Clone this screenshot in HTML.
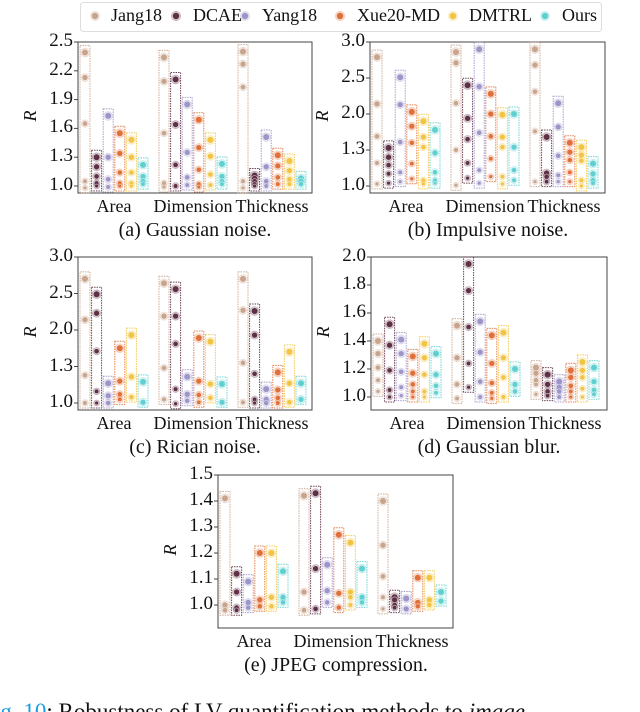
<!DOCTYPE html>
<html><head><meta charset="utf-8"><style>
html,body{margin:0;padding:0;background:#fff;width:640px;height:712px;overflow:hidden;position:relative}
body,.t{font-family:"Liberation Serif","Times New Roman","DejaVu Serif",serif;color:#111}
.t{position:absolute;white-space:nowrap;line-height:1}
svg{position:absolute;left:0;top:0}
</style></head><body>
<svg id="fig" width="640" height="712" viewBox="0 0 640 712" xmlns="http://www.w3.org/2000/svg">
<g id="legend"></g>
<g id="panels"></g>
</svg>
<div id="texts"></div>
<div class="t" style="left:-6px;top:700px;font-size:23px"><span style="color:#1a9de0">ig. 10</span>: Robustness of LV quantification methods to <i>image</i></div>
<script>
const methods = ["Jang18","DCAE","Yang18","Xue20-MD","DMTRL","Ours"];
const colors = ["#c9a48c","#5e2f45","#9d94c8","#e0703a","#f2c443","#5fcfd0"];
const groups = ["Area","Dimension","Thickness"];

const tickValsA = [1.0,1.3,1.6,1.9,2.2,2.5];
const tickLabA = ["1.0","1.3","1.6","1.9","2.2","2.5"];
const dataA = [
 [[2.39,2.13,1.65,1.05,0.98],[1.30,1.20,1.10,1.03,1.0],[1.73,1.30,1.07,0.99],[1.55,1.34,1.14,1.03,1.0],[1.48,1.30,1.14,1.03,1.0],[1.22,1.10,1.05,1.02]],
 [[2.34,2.09,1.55,1.03,0.99],[2.11,1.64,1.22,1.0],[1.85,1.35,1.09,1.01],[1.69,1.40,1.17,1.02,0.99],[1.48,1.31,1.12,1.01],[1.23,1.10,1.05,1.02]],
 [[2.40,2.27,2.03,1.05,0.98],[1.11,1.08,1.05,1.02,1.0],[1.51,1.20,1.05,1.0],[1.32,1.21,1.09,1.02],[1.26,1.16,1.07,1.02],[1.08,1.05,1.02]]
];
const tickValsB = [1.0,1.5,2.0,2.5,3.0];
const tickLabB = ["1.0","1.3","2.0","2.5","3.0"];
const dataB = [
 [[2.79,2.14,1.69,1.32,1.03],[1.53,1.40,1.29,1.17,1.04],[2.51,2.13,1.61,1.19,1.06],[2.03,1.83,1.60,1.31,1.10],[1.90,1.68,1.54,1.08,1.03],[1.78,1.46,1.19,1.08,1.04]],
 [[2.86,2.71,2.15,1.50,1.01],[2.40,1.94,1.65,1.32,1.11],[2.90,2.38,1.74,1.22,1.04],[2.28,2.00,1.69,1.38,1.13],[1.99,1.68,1.54,1.13,1.03],[2.00,1.54,1.22,1.08]],
 [[2.90,2.68,2.31,1.76,1.06],[1.68,1.18,1.13,1.06],[2.15,1.82,1.42,1.15,1.06],[1.60,1.47,1.36,1.19,1.06],[1.54,1.43,1.35,1.08,1.0],[1.31,1.17,1.08,1.04]]
];
const tickValsC = [1.0,1.5,2.0,2.5,3.0];
const tickLabC = ["1.0","1.3","2.0","2.5","3.0"];
const dataC = [
 [[2.70,2.14,1.38,1.0],[2.49,2.23,1.71,1.16,1.0],[1.27,1.10,1.0],[1.75,1.30,1.12,1.05],[1.93,1.36,1.08],[1.29,1.01]],
 [[2.64,2.19,1.48,1.05],[2.56,2.19,1.81,1.19,0.99],[1.36,1.12,1.03],[1.89,1.30,1.11,1.01],[1.84,1.26,1.07],[1.26,1.01]],
 [[2.70,2.27,1.55,1.01],[2.26,1.93,1.40,1.05,1.0],[1.19,1.05,1.0],[1.42,1.18,1.07,1.0],[1.70,1.27,1.01],[1.27,1.05]]
];
const tickValsD = [1.0,1.2,1.4,1.6,1.8,2.0];
const tickLabD = ["1.0","1.2","1.4","1.6","1.8","2.0"];
const dataD = [
 [[1.40,1.31,1.21,1.12,1.04],[1.52,1.37,1.19,1.05,1.0],[1.41,1.31,1.18,1.07,1.01],[1.29,1.17,1.09,1.04,1.0],[1.38,1.28,1.16,1.04,1.0],[1.31,1.16,1.08,1.03]],
 [[1.51,1.28,1.09,0.99],[1.95,1.76,1.50,1.24,1.07],[1.54,1.32,1.11,1.0],[1.44,1.24,1.10,1.03,0.99],[1.46,1.28,1.14,1.0],[1.20,1.09,1.04]],
 [[1.21,1.17,1.12,1.09,1.02],[1.16,1.09,1.04,1.01],[1.11,1.07,1.04,1.0],[1.19,1.14,1.08,1.04,1.0],[1.25,1.19,1.14,1.06,1.0],[1.21,1.11,1.05,1.02]]
];
const tickValsE = [1.0,1.1,1.2,1.3,1.4,1.5];
const tickLabE = ["1.0","1.1","1.2","1.3","1.4","1.5"];
const dataE = [
 [[1.41,1.0,0.98],[1.12,1.05,0.99,0.98],[1.09,1.01,0.99],[1.20,1.02,0.995],[1.20,1.03,0.995],[1.13,1.03,1.01]],
 [[1.42,1.05,0.98],[1.43,1.14,0.985],[1.155,1.055,1.01],[1.27,1.045,0.99],[1.24,1.05,1.03,1.0],[1.14,1.03,1.01]],
 [[1.40,1.23,1.11,1.03,0.985],[1.03,1.02,1.0,0.99],[1.025,0.985],[1.105,1.01,0.995],[1.105,1.02,1.0],[1.05,1.015]]
];

const NS="http://www.w3.org/2000/svg";
const TX=document.getElementById("texts");
function mk(tag, parent, attrs){const e=document.createElementNS(NS,tag);for(const k in attrs)e.setAttribute(k,attrs[k]);parent.appendChild(e);return e;}
// HTML text: x, baseline y, size, anchor ('start'|'middle'|'end')
function txt(x,y,size,anchor,content,extra){
  const d=document.createElement("div");
  d.className="t";
  d.style.fontSize=size+"px";
  d.style.left=x+"px";
  d.style.top=(y-size*0.89)+"px";
  const tx=anchor==="middle"?"-50%":anchor==="end"?"-100%":"0";
  d.style.transform="translateX("+tx+")"+(extra||"");
  d.textContent=content;
  TX.appendChild(d);
  return d;
}

function marker(parent,cx,cy,col,r){
  const g=mk("g",parent,{});
  mk("circle",g,{cx:cx,cy:cy,r:r+1.5,fill:col,"fill-opacity":0.35});
  mk("circle",g,{cx:cx,cy:cy,r:r,fill:col,stroke:"#fff","stroke-width":0.6,"stroke-opacity":0.7});
  return g;
}

const lg=document.getElementById("legend");
const lbox=mk("rect",lg,{x:80.5,y:2.5,width:521,height:29,rx:3,fill:"#fff",stroke:"#ddd"});


const lmx=[95,176,245,340,453,545], ltx=[111,193,262,357,469,562];
methods.forEach((m,i)=>{
  const g=mk("g",lg,{});
  
  
  marker(g,lmx[i],16,colors[i],3.5);
  const t=txt(ltx[i],22,18,"start",m);
  
  
});

const panels=[
 {id:"a",L:78,R:312,T:42,B:193,v0:1.0,y0:186,v1:2.5,y1:42,tv:tickValsA,tl:tickLabA,data:dataA,cap:"(a) Gaussian noise.",cx:195},
 {id:"b",L:370,R:605,T:42,B:193,v0:1.0,y0:186,v1:3.0,y1:42,tv:tickValsB,tl:tickLabB,data:dataB,cap:"(b) Impulsive noise.",cx:488},
 {id:"c",L:78,R:312,T:257,B:410,v0:1.0,y0:403,v1:3.0,y1:257,tv:tickValsC,tl:tickLabC,data:dataC,cap:"(c) Rician noise.",cx:195},
 {id:"d",L:371,R:607,T:257,B:410,v0:1.0,y0:397,v1:2.0,y1:257,tv:tickValsD,tl:tickLabD,data:dataD,cap:"(d) Gaussian blur.",cx:489},
 {id:"e",L:218,R:453,T:475,B:628,v0:1.0,y0:605,v1:1.5,y1:475,tv:tickValsE,tl:tickLabE,data:dataE,cap:"(e) JPEG compression.",cx:336}
];
const root=document.getElementById("panels");
panels.forEach(p=>{
  const g=mk("g",root,{});
  
  
  const y=v=>p.y0+(v-p.v0)*(p.y1-p.y0)/(p.v1-p.v0);
  const ax=mk("rect",g,{x:p.L,y:p.T,width:p.R-p.L,height:p.B-p.T,fill:"none",stroke:"#444","stroke-width":1});
  
  
  p.tv.forEach((v,i)=>{
    const yy=y(v);
    mk("line",g,{x1:p.L-4,x2:p.L,y1:yy,y2:yy,stroke:"#444"});
    const t=txt(p.L-5,yy+6,19,"end",p.tl[i]);
    
    
  });
  const yl=txt(p.L-48,(p.T+p.B)/2+6,18,"middle","R"," rotate(-90deg)");
  yl.style.fontStyle="italic";
  
  
  const gstart=[2,81,160], step=11.6, bw=10;
  groups.forEach((gn,gi)=>{
    const gx=p.L+gstart[gi];
    const xl=txt(gx+34,p.B+20,18,"middle",gn);
    
    
    p.data[gi].forEach((pts,mi)=>{
      const bx=gx+mi*step, col=colors[mi];
      const ys=pts.map(y);
      const top=Math.min(...ys)-7, bot=Math.max(...ys)+5;
      const bg=mk("g",g,{});
      
      
      mk("rect",bg,{x:bx,y:top,width:bw,height:bot-top,fill:"none",stroke:col,"stroke-width":1,"stroke-dasharray":"1.5,1",opacity:0.9});
      ys.forEach((yy,k)=>{
        const r=Math.max(1.8,3.3-k*0.35);
        const pt=marker(bg,bx+bw/2,yy,col,r);
        
        
      });
    });
  });
  const c=txt(p.cx,p.B+45,20,"middle",p.cap);
  
  
});
</script>
</body></html>
